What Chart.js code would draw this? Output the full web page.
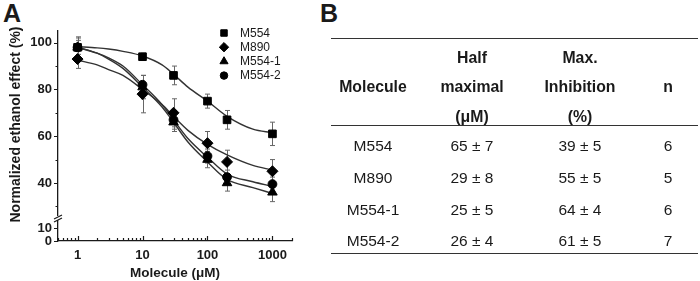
<!DOCTYPE html>
<html><head><meta charset="utf-8">
<script src="https://cdn.jsdelivr.net/npm/chart.js@4/dist/chart.umd.min.js"></script>
<style>
html,body{margin:0;padding:0;background:#fff;}
body{width:700px;height:281px;position:relative;overflow:hidden;font-family:"Liberation Sans",Arial,sans-serif;color:#1a1a1a;}
#wrapA{position:absolute;left:0;top:0;width:350px;height:281px;}
.panel{position:absolute;font-weight:bold;font-size:25px;line-height:25px;}
.t{position:absolute;width:160px;text-align:center;line-height:20px;height:20px;white-space:nowrap;}
.h{font-weight:bold;font-size:15.8px;}
.d{font-size:15.5px;}
.rule{position:absolute;left:331px;width:367px;height:0;border-top:1.6px solid #333;}
</style></head>
<body>
<div class="panel" style="left:3px;top:1px;">A</div>
<div class="panel" style="left:320px;top:1px;">B</div>
<div id="wrapA"><canvas id="c" width="350" height="281"></canvas></div>
<div id="tbl"></div>
<script>
// ---------- data ----------
const concentrations = [1, 10, 30, 100, 200, 1000];
const seriesNames = ['M554', 'M890', 'M554-1', 'M554-2'];
const m554Values   = [98, 94, 86, 75, 67, 61];
const m554Errors   = [4.5, 1.5, 4, 3, 4, 5];
const m890Values   = [93, 78, 70, 57, 49, 45];
const m890Errors   = [4, 8, 6, 5, 5, 5];
const m5541Values  = [98, 81, 66, 50, 40, 36];
const m5541Errors  = [4, 5, 4, 3.5, 3.5, 4];
const m5542Values  = [98, 82, 67, 51.5, 42.5, 39.5];
const m5542Errors  = [3, 4, 4, 3, 3, 3];
// fitted curves
const fitX        = [1, 2, 3, 5, 10, 20, 30, 50, 100, 200, 500, 1000];
const fitM554     = [98.3, 97.8, 97.3, 96.3, 94.3, 90.5, 86.5, 81, 75, 68.5, 63, 61.5];
const fitM890     = [92.5, 90.5, 88.5, 86, 80, 73.5, 68.5, 62.5, 56.5, 52, 47.5, 45.5];
const fitM5541    = [98, 95.5, 93, 89, 81, 72.5, 66, 57.5, 49, 41.5, 38, 35.5];
const fitM5542    = [98, 95.5, 93.5, 90, 82, 73.5, 67, 59, 51, 43.8, 40.5, 38.5];
const xTickValues = [1, 10, 100, 1000];
const yUpperTicks = [40, 60, 80, 100];
const yLowerTicks = [0, 10];
// table
const tableMolecules = ['M554', 'M890', 'M554-1', 'M554-2'];
const tableHalfMax   = ['65 ± 7', '29 ± 8', '25 ± 5', '26 ± 4'];
const tableMaxInh    = ['39 ± 5', '55 ± 5', '64 ± 4', '61 ± 5'];
const tableN         = ['6', '5', '6', '7'];

// ---------- table (panel B) ----------
(function(){
  const tbl = document.getElementById('tbl');
  const colX = [373, 472, 580, 668];
  function add(txt, cx, cy, cls){
    const d = document.createElement('div');
    d.className = 't ' + cls;
    d.textContent = txt;
    d.style.left = (cx - 80) + 'px';
    d.style.top = (cy - 10) + 'px';
    tbl.appendChild(d);
  }
  [39, 126, 254].forEach(y => {
    const r = document.createElement('div'); r.className = 'rule'; r.style.top = (y - 1) + 'px'; tbl.appendChild(r);
  });
  add('Molecule', colX[0], 87, 'h');
  add('Half', colX[1], 58, 'h'); add('maximal', colX[1], 87, 'h'); add('(μM)', colX[1], 117, 'h');
  add('Max.', colX[2], 58, 'h'); add('Inhibition', colX[2], 87, 'h'); add('(%)', colX[2], 117, 'h');
  add('n', colX[3], 87, 'h');
  const rowY = [146, 178, 210, 241];
  tableMolecules.forEach((m, i) => {
    add(m, colX[0], rowY[i], 'd');
    add(tableHalfMax[i], colX[1], rowY[i], 'd');
    add(tableMaxInh[i], colX[2], rowY[i], 'd');
    add(tableN[i], colX[3], rowY[i], 'd');
  });
})();

// ---------- chart (panel A) ----------
const FONT = '"Liberation Sans", Arial, sans-serif';
Chart.defaults.font.family = FONT;
Chart.defaults.color = '#1a1a1a';

const pointValues = [m554Values, m890Values, m5541Values, m5542Values];
const pointErrors = [m554Errors, m890Errors, m5541Errors, m5542Errors];
const fits = [fitM554, fitM890, fitM5541, fitM5542];
const styles = ['rect', 'rectRot', 'triangle', 'circle'];
const radii = [5.4, 5.5, 5.5, 4.4];

const datasets = [];
fits.forEach((f, i) => {
  datasets.push({
    label: seriesNames[i] + ' fit',
    data: fitX.map((x, j) => ({x: x, y: f[j]})),
    showLine: true, pointRadius: 0, borderColor: '#333', borderWidth: 1.4,
    cubicInterpolationMode: 'monotone', yAxisID: 'y', order: 2
  });
});
pointValues.forEach((v, i) => {
  datasets.push({
    label: seriesNames[i],
    data: concentrations.map((x, j) => ({x: x, y: v[j]})),
    showLine: false, pointStyle: styles[i], pointRadius: radii[i],
    backgroundColor: '#000', borderColor: '#000', borderWidth: 1,
    yAxisID: 'y', order: 1
  });
});

const errorBars = {
  id: 'errorBars',
  beforeDatasetsDraw(chart){
    const ctx = chart.ctx, xs = chart.scales.x, ys = chart.scales.y;
    ctx.save();
    ctx.strokeStyle = '#666'; ctx.lineWidth = 1;
    pointValues.forEach((vals, i) => {
      vals.forEach((v, j) => {
        const e = pointErrors[i][j];
        const px = Math.round(xs.getPixelForValue(concentrations[j])) + 0.5;
        const t = ys.getPixelForValue(v + e), b = ys.getPixelForValue(v - e);
        ctx.beginPath();
        ctx.moveTo(px, t); ctx.lineTo(px, b);
        ctx.moveTo(px - 2.5, t); ctx.lineTo(px + 2.5, t);
        ctx.moveTo(px - 2.5, b); ctx.lineTo(px + 2.5, b);
        ctx.stroke();
      });
    });
    ctx.restore();
  }
};

const axesDecor = {
  id: 'axesDecor',
  afterDraw(chart){
    const ctx = chart.ctx, xs = chart.scales.x, ys = chart.scales.y, yl = chart.scales.yLow;
    const area = chart.chartArea;
    ctx.save();
    ctx.strokeStyle = '#1a1a1a'; ctx.lineWidth = 1.2;
    const xMinor = [];
    for (let k = -1; k <= 3; k++) for (let m = 1; m <= 9; m++) {
      const v = m * Math.pow(10, k);
      if (v >= 0.5 && v <= 2000) xMinor.push(v);
    }
    ctx.beginPath();
    xMinor.forEach(v => {
      const px = Math.round(xs.getPixelForValue(v)) + 0.5;
      const major = xTickValues.includes(v);
      ctx.moveTo(px, area.bottom); ctx.lineTo(px, area.bottom - (major ? 5 : 3));
    });
    const L = area.left;
    yUpperTicks.concat([30, 50, 70, 90]).forEach(v => {
      const py = Math.round(ys.getPixelForValue(v)) + 0.5;
      const major = yUpperTicks.includes(v);
      ctx.moveTo(L, py); ctx.lineTo(L - (major ? 4 : 2.5), py);
    });
    yLowerTicks.forEach(v => {
      const py = Math.round(yl.getPixelForValue(v)) + 0.5;
      ctx.moveTo(L, py); ctx.lineTo(L - 4, py);
    });
    ctx.stroke();
    // axis break
    const by = ys.bottom;
    ctx.fillStyle = '#fff';
    ctx.fillRect(L - 3, by - 2, 6, 4);
    ctx.beginPath();
    ctx.moveTo(L - 4, by + 1); ctx.lineTo(L + 4, by - 3);
    ctx.moveTo(L - 4, by + 4); ctx.lineTo(L + 4, by);
    ctx.stroke();
    // legend
    const lx = 224, tx = 240, ly0 = 33, dy = 14.2;
    ctx.font = '12px ' + FONT;
    ctx.textBaseline = 'middle'; ctx.textAlign = 'left';
    seriesNames.forEach((n, i) => {
      const y = ly0 + i * dy;
      ctx.fillStyle = '#000'; ctx.strokeStyle = '#000'; ctx.lineWidth = 1;
      Chart.helpers.drawPoint(ctx, {pointStyle: styles[i], radius: radii[i] * 0.85, borderWidth: 1}, lx, y);
      ctx.fillStyle = '#1a1a1a';
      ctx.fillText(n, tx, y + 0.5);
    });
    ctx.restore();
  }
};

const tickFont = {family: FONT, size: 13, weight: 'bold'};
const noGrid = {display: false, drawTicks: false};

new Chart(document.getElementById('c'), {
  type: 'scatter',
  data: {datasets: datasets},
  options: {
    responsive: false, animation: false, devicePixelRatio: 1,
    layout: {padding: {left: 0, right: 58, top: 31, bottom: 0}},
    plugins: {legend: {display: false}, tooltip: {enabled: false}},
    scales: {
      yLow: {
        type: 'linear', position: 'left', stack: 'ystack', stackWeight: 23,
        min: 0, max: 18,
        grid: noGrid,
        border: {display: true, color: '#1a1a1a', width: 1.3},
        afterBuildTicks: s => { s.ticks = yLowerTicks.map(v => ({value: v})); },
        ticks: {font: tickFont, color: '#1a1a1a', padding: 6, autoSkip: false},
        afterFit: s => { s.width = 58; }
      },
      y: {
        type: 'linear', position: 'left', stack: 'ystack', stackWeight: 187,
        min: 25, max: 105,
        grid: noGrid,
        border: {display: true, color: '#1a1a1a', width: 1.3},
        afterBuildTicks: s => { s.ticks = yUpperTicks.map(v => ({value: v})); },
        ticks: {font: tickFont, color: '#1a1a1a', padding: 6, autoSkip: false},
        title: {display: true, text: 'Normalized ethanol effect (%)', font: {family: FONT, size: 14, weight: 'bold'}, color: '#1a1a1a', padding: {top: 8, bottom: 0}},
        afterFit: s => { s.width = 58; }
      },
      x: {
        type: 'logarithmic', min: 0.5, max: 2000,
        grid: noGrid,
        border: {display: true, color: '#1a1a1a', width: 1.3},
        afterBuildTicks: s => { s.ticks = xTickValues.map(v => ({value: v})); },
        ticks: {font: tickFont, color: '#1a1a1a', padding: 7, maxRotation: 0, autoSkip: false,
                callback: v => String(v)},
        title: {display: true, text: 'Molecule (μM)', font: {family: FONT, size: 13.5, weight: 'bold'}, color: '#1a1a1a', padding: {top: 2, bottom: 0}},
        afterFit: s => { s.height = 40; }
      }
    }
  },
  plugins: [errorBars, axesDecor]
});
</script>
</body></html>
